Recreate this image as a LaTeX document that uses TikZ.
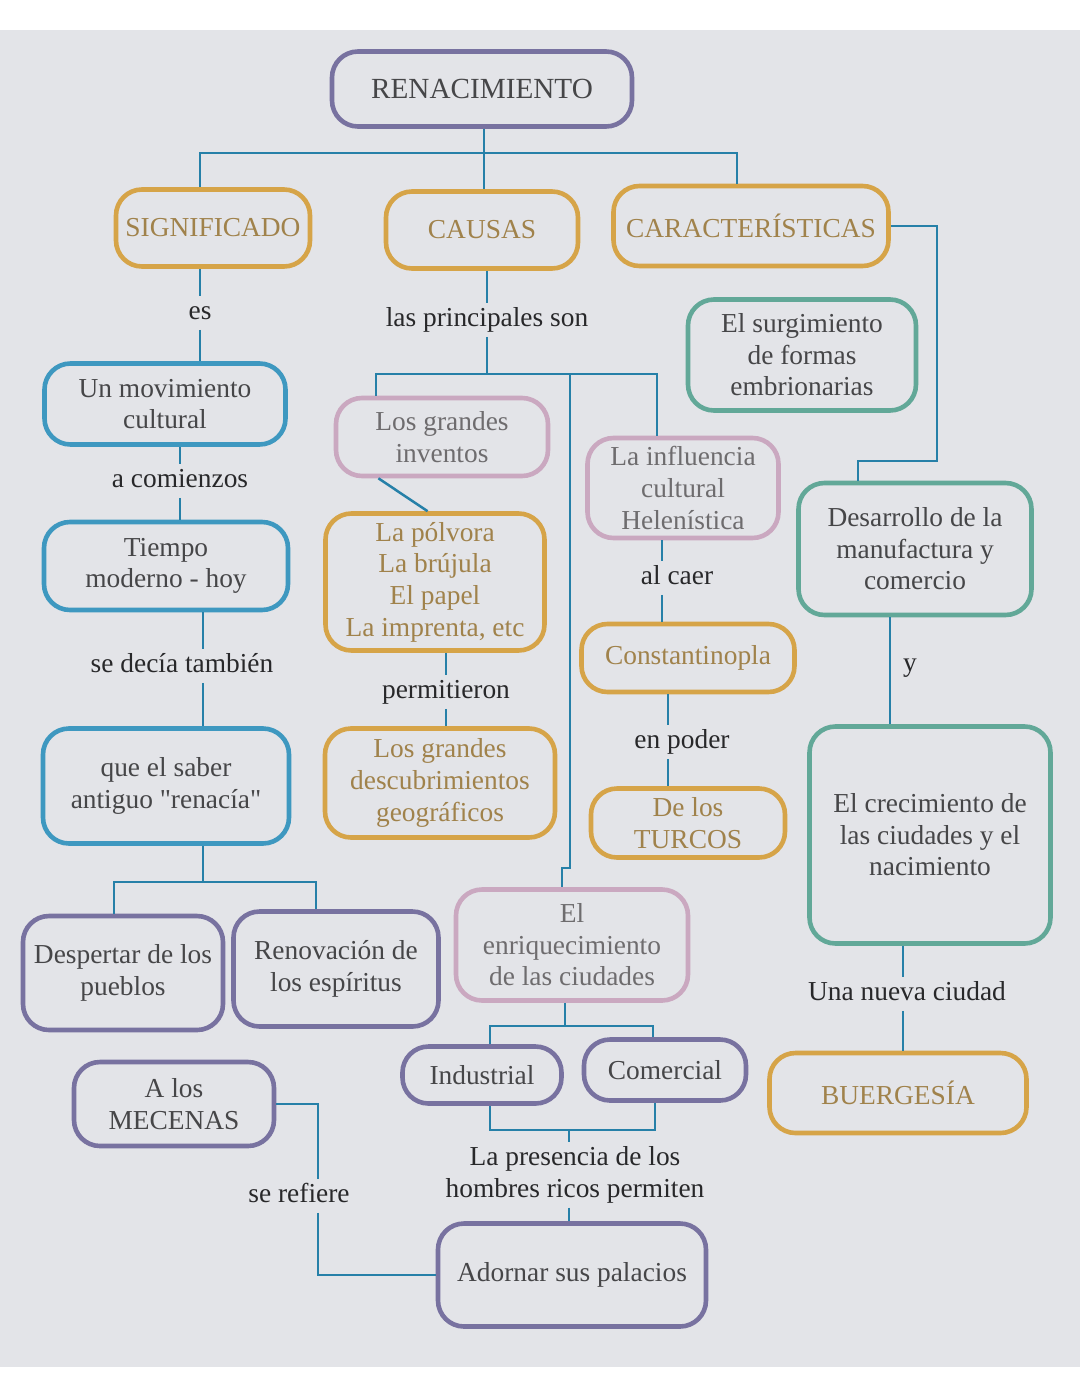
\documentclass[tikz,border=0pt]{standalone}
\usepackage{fontspec}
\setmainfont{Liberation Serif}
\newfontfamily\qfont{Liberation Serif}[Ligatures=ResetAll]
\definecolor{bggray}{RGB}{227,228,232}
\definecolor{lineblue}{RGB}{38,128,168}
\definecolor{cpurple}{RGB}{120,114,160}
\definecolor{cgold}{RGB}{214,164,72}
\definecolor{cblue}{RGB}{62,152,192}
\definecolor{cpink}{RGB}{202,168,192}
\definecolor{cteal}{RGB}{98,168,152}
\definecolor{tdark}{RGB}{70,70,72}
\definecolor{tgold}{RGB}{160,130,75}
\definecolor{tgray}{RGB}{110,108,110}
\definecolor{tlabel}{RGB}{40,40,42}
\newcommand\bxfont{\fontsize{13.7pt}{15.8pt}\selectfont}
\newcommand\renfont{\fontsize{14.6pt}{16pt}\selectfont}
\newcommand\sq{{\qfont\symbol{34}}}
\begin{document}
\begin{tikzpicture}[x=0.5pt,y=-0.5pt,
  conn/.style={draw=lineblue, line width=1.25pt},
  box/.style={draw, rounded corners=13pt, line width=2.3pt, align=center, inner sep=2pt, font=\bxfont},
  pbox/.style={box, draw=cpurple, text=tdark},
  gbox/.style={box, draw=cgold, text=tgold},
  bbox/.style={box, draw=cblue, text=tdark},
  kbox/.style={box, draw=cpink, text=tgray},
  tbox/.style={box, draw=cteal, text=tdark},
  lbl/.style={text=tlabel, font=\bxfont, inner sep=2pt, text height=9.5pt, text depth=3pt},
  lbltwo/.style={text=tlabel, font=\bxfont, inner sep=2pt, align=center},
]
\useasboundingbox (0,0) rectangle (1080,1397);
\fill[white] (0,0) rectangle (1080,1397);
\fill[bggray] (0,30) rectangle (1080,1367);

% boxes
\node[pbox, minimum width=150pt, minimum height=37.5pt, font=\renfont] (ren) at (482,89) {RENACIMIENTO};
\node[gbox, minimum width=97pt, minimum height=38.5pt] (sig) at (213,228) {SIGNIFICADO};
\node[gbox, minimum width=96pt, minimum height=38.5pt] (cau) at (482,230) {CAUSAS};
\node[gbox, minimum width=137.5pt, minimum height=40pt] (car) at (751,226) {CARACTERÍSTICAS};
\node[bbox, minimum width=120.5pt, minimum height=40.5pt] (mov) at (165,404) {Un movimiento\\cultural};
\node[bbox, minimum width=122pt, minimum height=44pt] (tie) at (166,566) {Tiempo\\moderno - hoy};
\node[bbox, minimum width=123pt, minimum height=57.5pt] (sab) at (166,786) {que el saber\\antiguo \sq renacía\sq};
\node[pbox, minimum width=100pt, minimum height=57pt] (des) at (123,973) {Despertar de los\\pueblos};
\node[pbox, minimum width=102.5pt, minimum height=57.5pt] (renov) at (336,969) {Renovación de\\los espíritus};
\node[pbox, minimum width=100pt, minimum height=42pt] (mec) at (174,1104) {A los\\MECENAS};
\node[pbox, minimum width=134pt, minimum height=51.5pt] (ado) at (572,1275) {Adornar sus palacios};
\node[kbox, minimum width=106pt, minimum height=39pt] (inv) at (442,437) {Los grandes\\inventos};
\node[gbox, minimum width=109.5pt, minimum height=68.5pt] (pol) at (435,582) {La pólvora\\La brújula\\El papel\\La imprenta, etc};
\node[gbox, minimum width=115pt, minimum height=54.5pt] (geo) at (440,783) {Los grandes\\descubrimientos\\geográficos};
\node[kbox, minimum width=95.5pt, minimum height=50pt] (hel) at (683,488) {La influencia\\cultural\\Helenística};
\node[gbox, minimum width=106.5pt, minimum height=34pt] (con) at (688,658) {Constantinopla};
\node[gbox, minimum width=97pt, minimum height=34.5pt] (tur) at (688,823) {De los\\TURCOS};
\node[kbox, minimum width=116pt, minimum height=55.5pt] (enr) at (572,945) {El\\enriquecimiento\\de las ciudades};
\node[pbox, minimum width=79.5pt, minimum height=28.5pt] (ind) at (482,1075) {Industrial};
\node[pbox, minimum width=81pt, minimum height=30.5pt] (com) at (665,1070) {Comercial};
\node[tbox, minimum width=114pt, minimum height=55.5pt] (sur) at (802,355) {El surgimiento\\de formas\\embrionarias};
\node[tbox, minimum width=116.5pt, minimum height=66pt] (dsr) at (915,549) {Desarrollo de la\\manufactura y\\comercio};
\node[tbox, minimum width=120.5pt, minimum height=108.5pt] (cre) at (930,835) {El crecimiento de\\las ciudades y el\\nacimiento};
\node[gbox, minimum width=128.5pt, minimum height=40pt] (bue) at (898,1093) {BUERGESÍA};

% labels
\node[lbl] (es) at (200,313) {es};
\node[lbl] (lps) at (487,320) {las principales son};
\node[lbl] (acom) at (180,481) {a comienzos};
\node[lbl] (sdt) at (182,666) {se decía también};
\node[lbl] (perm) at (446,692) {permitieron};
\node[lbl] (alc) at (677,578) {al caer};
\node[lbl] (enp) at (682,742) {en poder};
\node[lbl] (yy) at (910,665) {y};
\node[lbl] (una) at (907,994) {Una nueva ciudad};
\node[lbl] (ser) at (299,1196) {se refiere};
\node[lbltwo] (pres) at (575,1175) {La presencia de los\\hombres ricos permiten};

% coordinates
\coordinate (bar1) at (484,153);
\coordinate (b1l) at (200,153);
\coordinate (b1r) at (737,153);
\coordinate (r1) at (937,461);
\coordinate (r2) at (858,461);
\coordinate (xs) at (203,0);
\coordinate (b2) at (203,882);
\coordinate (b2l) at (114,882);
\coordinate (b2r) at (316,882);
\coordinate (xm) at (318,0);
\coordinate (b3) at (487,374);
\coordinate (b3l) at (376,374);
\coordinate (b3r) at (657,374);
\coordinate (b3m) at (570,374);
\coordinate (j1) at (570,868);
\coordinate (j2) at (562,868);
\coordinate (xp) at (446,0);
\coordinate (xh) at (662,0);
\coordinate (xq) at (668,0);
\coordinate (b4) at (565,1026);
\coordinate (b4l) at (490,1026);
\coordinate (b4r) at (653,1026);
\coordinate (b5l) at (490,1130);
\coordinate (b5r) at (655,1130);
\coordinate (b5m) at (569,1130);
\coordinate (xy) at (890,0);
\coordinate (xn) at (903,0);

% connectors
\draw[conn] (bar1 |- ren.south) -- (bar1 |- cau.north);
\draw[conn] (b1l |- sig.north) -- (b1l) -- (b1r) -- (b1r |- car.north);
\draw[conn] (car.east) -| (r1) -- (r2) -- (r2 |- dsr.north);

\draw[conn] (es.north |- sig.south) -- (es.north);
\draw[conn] (es.south) -- (es.south |- mov.north);
\draw[conn] (acom.north |- mov.south) -- (acom.north);
\draw[conn] (acom.south) -- (acom.south |- tie.north);
\draw[conn] (xs |- tie.south) -- (xs |- sdt.north);
\draw[conn] (xs |- sdt.south) -- (xs |- sab.north);
\draw[conn] (b2 |- sab.south) -- (b2);
\draw[conn] (b2l |- des.north) -- (b2l) -- (b2r) -- (b2r |- renov.north);

\draw[conn] (mec.east) -| (xm |- ser.north);
\draw[conn] (xm |- ser.south) |- (ado.west);

\draw[conn] (b3 |- cau.south) -- (b3 |- lps.north);
\draw[conn] (b3 |- lps.south) -- (b3);
\draw[conn] (b3l |- inv.north) -- (b3l) -- (b3r) -- (b3r |- hel.north);
\draw[conn] (b3m) -- (j1) -- (j2) -- (j2 |- enr.north);
\draw[conn] (inv.213) -- (pol.96);
\draw[conn] (xp |- pol.south) -- (xp |- perm.north);
\draw[conn] (xp |- perm.south) -- (xp |- geo.north);

\draw[conn] (xh |- hel.south) -- (xh |- alc.north);
\draw[conn] (xh |- alc.south) -- (xh |- con.north);
\draw[conn] (xq |- con.south) -- (xq |- enp.north);
\draw[conn] (xq |- enp.south) -- (xq |- tur.north);

\draw[conn] (b4 |- enr.south) -- (b4);
\draw[conn] (b4l |- ind.north) -- (b4l) -- (b4r) -- (b4r |- com.north);
\draw[conn] (b5l |- ind.south) -- (b5l) -- (b5r) -- (b5r |- com.south);
\draw[conn] (b5m) -- (b5m |- pres.north);
\draw[conn] (b5m |- pres.south) -- (b5m |- ado.north);

\draw[conn] (xy |- dsr.south) -- (xy |- cre.north);
\draw[conn] (xn |- cre.south) -- (xn |- una.north);
\draw[conn] (xn |- una.south) -- (xn |- bue.north);
\end{tikzpicture}
\end{document}
